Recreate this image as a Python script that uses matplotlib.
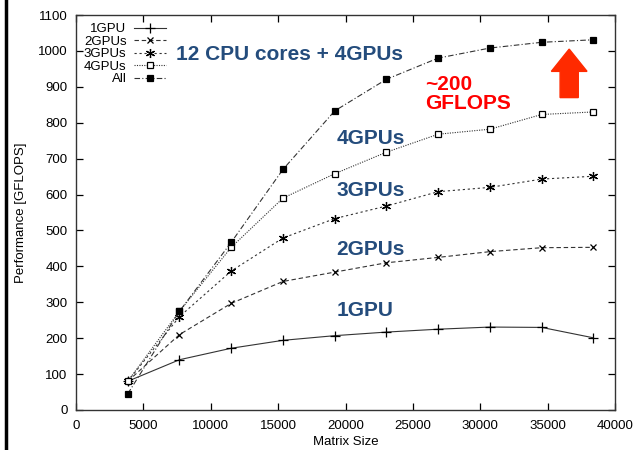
import matplotlib
matplotlib.use("Agg")
import matplotlib.pyplot as plt
from matplotlib.patches import FancyArrow
from matplotlib.lines import Line2D

matrix_size = [3840, 7680, 11520, 15360, 19200, 23040, 26880, 30720, 34560, 38400]
gpu1 = [80, 140, 172, 194, 207, 217, 225, 231, 230, 201]
gpu2 = [80, 210, 297, 358, 384, 410, 425, 441, 452, 453]
gpu3 = [80, 260, 387, 479, 533, 568, 608, 620, 643, 651]
gpu4 = [80, 275, 453, 590, 658, 718, 768, 782, 823, 830]
all_ = [45, 275, 467, 670, 833, 921, 980, 1008, 1024, 1031]
series_labels = ["1GPU", "2GPUs", "3GPUs", "4GPUs", "All"]
x_ticks = [0, 5000, 10000, 15000, 20000, 25000, 30000, 35000, 40000]
y_ticks = [0, 100, 200, 300, 400, 500, 600, 700, 800, 900, 1000, 1100]

plt.rcParams['font.family'] = ['Liberation Sans', 'DejaVu Sans']

fig = plt.figure(figsize=(6.34, 4.5), dpi=100)
ax = fig.add_axes([76/634, 40/450, (615-76)/634, (410-15)/450])

lc = '#333333'
lw = 0.8
ax.plot(matrix_size, gpu1, color=lc, lw=lw, ls='-', marker='+', ms=6.5, mew=0.9, mec='black', label=series_labels[0])
ax.plot(matrix_size, gpu2, color=lc, lw=lw, ls=(0, (4, 2.5)), marker='x', ms=5, mew=0.9, mec='black', label=series_labels[1])
ax.plot(matrix_size, gpu3, color=lc, lw=lw, ls=(0, (2, 2.5)), marker=(6, 2, 0), ms=6.5, mew=0.9, mec='black', label=series_labels[2])
ax.plot(matrix_size, gpu4, color=lc, lw=lw, ls=(0, (1, 1.2)), marker='s', ms=4.6, mew=0.9, mec='black', mfc='white', label=series_labels[3])
ax.plot(matrix_size, all_, color=lc, lw=lw, ls=(0, (5, 2, 1, 2)), marker='s', ms=4.6, mew=0.9, mec='black', mfc='black', label=series_labels[4])

ax.set_xlim(0, 40000)
ax.set_ylim(0, 1100)
ax.set_xticks(x_ticks)
ax.set_yticks(y_ticks)
ax.tick_params(direction='in', top=True, right=True, length=5, width=0.9, labelsize=9.5, pad=6, colors='black')
ax.tick_params(axis='x', pad=7)
for s in ax.spines.values():
    s.set_linewidth(1.0)
    s.set_color('#333333')
ax.set_xlabel("Matrix Size", fontsize=9.5, labelpad=3)
ax.set_ylabel("Performance [GFLOPS]", fontsize=9.5, labelpad=8)

leg = ax.legend(loc='upper left', markerfirst=False, frameon=False, fontsize=9.5,
                handlelength=2.4, handletextpad=0.6, labelspacing=0.02,
                borderaxespad=0.2, bbox_to_anchor=(0.0, 1.0))

blue = '#244c7c'
tk = dict(color=blue, fontsize=15, fontweight='bold', va='center', ha='left')
ax.text(7450, 990, "12 CPU cores + 4GPUs", **tk)
ax.text(19350, 755, "4GPUs", **tk)
ax.text(19350, 612, "3GPUs", **tk)
ax.text(19350, 448, "2GPUs", **tk)
ax.text(19350, 276, "1GPU", **tk)
ax.text(25900, 880, "~200\nGFLOPS", color='#ff0000', fontsize=15, fontweight='bold',
        va='center', ha='left', linespacing=1.05)

arrow = FancyArrow(36600, 870, 0, 135, width=1350, head_width=2650, head_length=62,
                   length_includes_head=True, color='#ff2a00', zorder=3)
ax.add_patch(arrow)

fig.add_artist(Line2D([6/634, 6/634], [0, 1], transform=fig.transFigure, color='black', lw=2.5))

fig.savefig("out.png", dpi=100)
